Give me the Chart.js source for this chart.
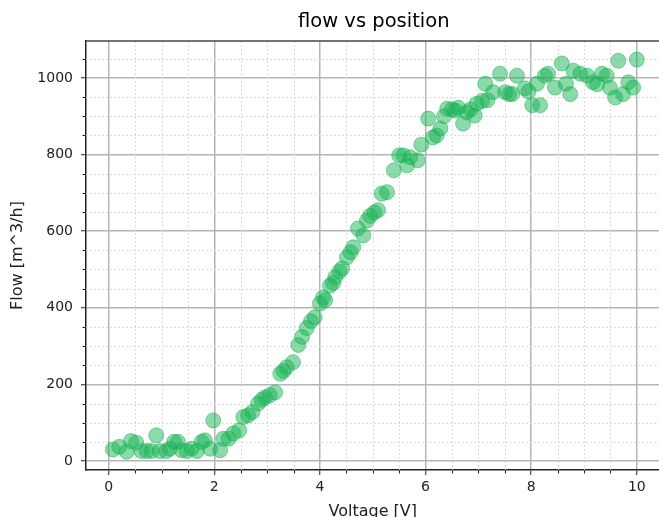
<!DOCTYPE html>
<html>
<head>
<meta charset="utf-8">
<script src="https://cdn.jsdelivr.net/npm/chart.js@4.4.0/dist/chart.umd.min.js"></script>
<style>
  html, body { margin: 0; padding: 0; background: #fff; overflow: hidden; }
  /* canvas is a bit wider than the window: the reference is cut at the right spine */
  #wrap { width: 659px; height: 517px; overflow: hidden; }
</style>
</head>
<body>
<div id="wrap"><canvas id="chart" width="668" height="517"></canvas></div>
<script>
// values
const voltage = [
  0.08, 0.20, 0.34, 0.42, 0.52, 0.62, 0.72, 0.81, 0.90, 0.97,
  1.09, 1.16, 1.24, 1.31, 1.38, 1.48, 1.57, 1.67, 1.76, 1.82,
  1.92, 1.98, 2.11, 2.17, 2.27, 2.36, 2.47, 2.55, 2.64, 2.72,
  2.83, 2.90, 2.96, 3.05, 3.15, 3.25, 3.31, 3.37, 3.49, 3.59,
  3.66, 3.75, 3.83, 3.90, 4.00, 4.06, 4.10, 4.19, 4.25, 4.29,
  4.37, 4.42, 4.51, 4.58, 4.63, 4.72, 4.82, 4.89, 4.95, 5.03,
  5.10, 5.17, 5.27, 5.40, 5.50, 5.58, 5.65, 5.71, 5.85, 5.92,
  6.05, 6.14, 6.21, 6.28, 6.35, 6.41, 6.50, 6.56, 6.62, 6.71,
  6.78, 6.85, 6.93, 6.97, 7.07, 7.13, 7.17, 7.28, 7.41, 7.51,
  7.58, 7.64, 7.73, 7.88, 7.95, 8.02, 8.11, 8.17, 8.26, 8.32,
  8.45, 8.58, 8.66, 8.74, 8.80, 8.93, 9.06, 9.17, 9.25, 9.34,
  9.43, 9.49, 9.59, 9.65, 9.74, 9.84, 9.93, 10.0
];
const flow = [
  30, 37, 24, 52, 48, 26, 26, 26, 67, 26,
  26, 32, 50, 50, 28, 26, 32, 26, 50, 54,
  32, 106, 28, 58, 58, 72, 80, 115, 119, 128,
  150, 160, 166, 172, 179, 228, 235, 245, 258, 303,
  324, 347, 365, 375, 411, 427, 420, 458, 465, 480,
  495, 503, 532, 545, 558, 607, 589, 628, 640, 649,
  655, 698, 702, 759, 798, 798, 772, 793, 785, 826,
  894, 845, 850, 868, 900, 920, 918, 915, 922, 881,
  910, 918, 902, 933, 940, 985, 942, 963, 1011, 963,
  958, 958, 1006, 973, 965, 929, 985, 929, 1006, 1011,
  975, 1038, 985, 958, 1019, 1011, 1006, 989, 984, 1011,
  1006, 975, 949, 1045, 958, 989, 975, 1048
];
const xTickLabels = [0, 2, 4, 6, 8, 10];
const yTickLabels = [0, 200, 400, 600, 800, 1000];
const chartTitle = "flow vs position";
const xTitle = "Voltage [V]";
const yTitle = "Flow [m^3/h]";

const FONT = "'DejaVu Sans', sans-serif";
const isMajor = (v, list) => list.some(t => Math.abs(t - v) < 1e-6);

// minor grid (dotted), minor tick marks, top spine and the title
const mplFrame = {
  id: "mplFrame",
  beforeDatasetsDraw(chart) {
    const { ctx, chartArea: a, scales: { x, y } } = chart;
    ctx.save();
    ctx.strokeStyle = "#dcdcdc";
    ctx.lineWidth = 1;
    ctx.setLineDash([2, 2]);
    x.ticks.forEach(t => {
      if (isMajor(t.value, xTickLabels)) return;
      const px = Math.round(x.getPixelForValue(t.value)) + 0.5;
      ctx.beginPath(); ctx.moveTo(px, a.top); ctx.lineTo(px, a.bottom); ctx.stroke();
    });
    y.ticks.forEach(t => {
      if (isMajor(t.value, yTickLabels)) return;
      const py = Math.round(y.getPixelForValue(t.value)) + 0.5;
      ctx.beginPath(); ctx.moveTo(a.left, py); ctx.lineTo(a.right, py); ctx.stroke();
    });
    ctx.restore();
  },
  afterDraw(chart) {
    const { ctx, chartArea: a, scales: { x, y } } = chart;
    ctx.save();
    ctx.strokeStyle = "#222";
    ctx.lineWidth = 1;
    x.ticks.forEach(t => {
      if (isMajor(t.value, xTickLabels)) return;
      const px = Math.round(x.getPixelForValue(t.value)) + 0.5;
      ctx.beginPath(); ctx.moveTo(px, a.bottom); ctx.lineTo(px, a.bottom + 3.5); ctx.stroke();
    });
    y.ticks.forEach(t => {
      if (isMajor(t.value, yTickLabels)) return;
      const py = Math.round(y.getPixelForValue(t.value)) + 0.5;
      ctx.beginPath(); ctx.moveTo(a.left - 3.5, py); ctx.lineTo(a.left, py); ctx.stroke();
    });
    // top spine
    ctx.strokeStyle = "#444";
    ctx.lineWidth = 1.5;
    ctx.beginPath(); ctx.moveTo(a.left, a.top); ctx.lineTo(a.right, a.top); ctx.stroke();
    // title, centred on the axes
    ctx.fillStyle = "#000";
    ctx.font = "19.5px " + FONT;
    ctx.textAlign = "center";
    ctx.textBaseline = "middle";
    ctx.fillText(chartTitle, (a.left + a.right) / 2 + 1, 22);
    ctx.restore();
  }
};

const noPad = s => { s.paddingLeft = 0; s.paddingRight = 0; s.paddingTop = 0; s.paddingBottom = 0; };

const ctx = document.getElementById("chart").getContext("2d");
const chart = new Chart(ctx, {
  type: "scatter",
  data: {
    datasets: [{
      label: "flow",
      data: voltage.map((v, i) => ({ x: v, y: flow[i] })),
      backgroundColor: "rgba(25,180,85,0.5)",
      borderColor: "rgba(25,180,85,0.5)",
      borderWidth: 1,
      pointRadius: 7.5,
      pointHoverRadius: 7.5
    }]
  },
  options: {
    responsive: false,
    animation: false,
    devicePixelRatio: 1,
    layout: { padding: { top: 41, right: 0, left: 0, bottom: 0 } },
    plugins: {
      legend: { display: false },
      title: { display: false },
      tooltip: { enabled: false }
    },
    scales: {
      x: {
        type: "linear",
        min: -0.43,
        max: 10.43,
        afterFit(s) { s.height = 47; noPad(s); },
        ticks: {
          stepSize: 0.5,
          includeBounds: false,
          autoSkip: false,
          maxRotation: 0,
          padding: 4,
          color: "#222",
          font: { family: FONT, size: 14 },
          callback: v => isMajor(v, xTickLabels) ? String(Math.round(v)) : ""
        },
        grid: {
          color: c => c.tick && isMajor(c.tick.value, xTickLabels) ? "#b5b5b5" : "rgba(0,0,0,0)",
          lineWidth: 1.5,
          tickLength: 5,
          tickColor: c => c.tick && isMajor(c.tick.value, xTickLabels) ? "#222" : "rgba(0,0,0,0)",
          tickWidth: 1
        },
        border: { color: "#222", width: 1.5 },
        title: {
          display: true,
          text: xTitle,
          color: "#222",
          font: { family: FONT, size: 16 },
          padding: -4
        }
      },
      y: {
        type: "linear",
        min: -23.5,
        max: 1096.6,
        afterFit(s) { s.width = 86; noPad(s); },
        ticks: {
          stepSize: 50,
          includeBounds: false,
          autoSkip: false,
          padding: 8,
          color: "#222",
          font: { family: FONT, size: 14 },
          callback: v => isMajor(v, yTickLabels) ? String(Math.round(v)) : ""
        },
        grid: {
          color: c => c.tick && isMajor(c.tick.value, yTickLabels) ? "#b5b5b5" : "rgba(0,0,0,0)",
          lineWidth: 1.5,
          tickLength: 5,
          tickColor: c => c.tick && isMajor(c.tick.value, yTickLabels) ? "#222" : "rgba(0,0,0,0)",
          tickWidth: 1
        },
        border: { color: "#222", width: 1.5 },
        title: {
          display: true,
          text: yTitle,
          color: "#222",
          font: { family: FONT, size: 16 },
          padding: { top: 8, bottom: 0 }
        }
      }
    }
  },
  plugins: [mplFrame]
});
</script>
</body>
</html>
